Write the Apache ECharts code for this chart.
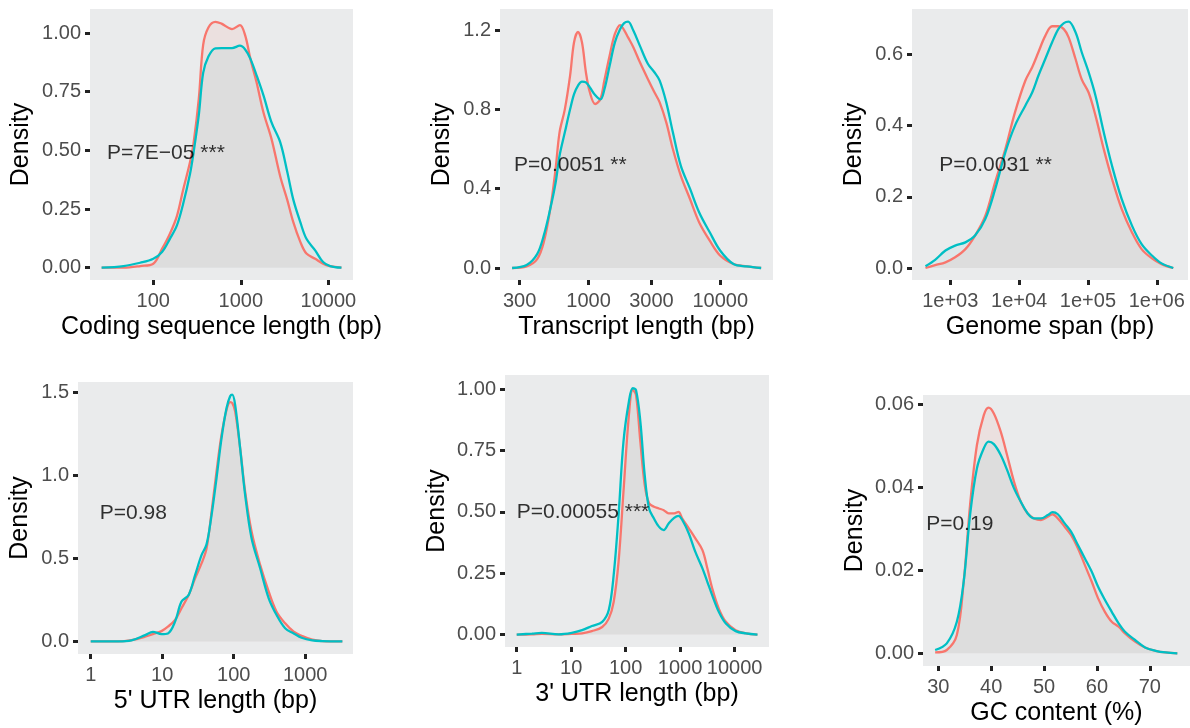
<!DOCTYPE html>
<html>
<head>
<meta charset="utf-8">
<script src="https://cdn.jsdelivr.net/npm/echarts@6/dist/echarts.min.js"></script>
<style>
html,body{margin:0;padding:0;background:#fff;}
#chart{width:1190px;height:728px;}
</style>
</head>
<body>
<div id="chart"></div>
<script>
// ---------- DATA ----------
// x positions of density samples are log10(bp) for the length panels, % for GC content
const cdsLogLen = [1.41,1.66,1.85,2.00,2.10,2.19,2.27,2.34,2.42,2.46,2.52,2.57,2.63,2.71,2.78,2.90,2.99,3.05,3.11,3.18,3.26,3.35,3.45,3.53,3.60,3.68,3.75,3.85,3.94,4.02,4.15];
const cdsRed  = [0,0,0.007,0.017,0.08,0.145,0.22,0.33,0.45,0.53,0.72,0.95,1.024,1.048,1.04,1.017,1.034,0.99,0.89,0.79,0.66,0.55,0.39,0.29,0.194,0.11,0.06,0.038,0.017,0.007,0];
const cdsTeal = [0,0.007,0.021,0.038,0.067,0.123,0.18,0.27,0.40,0.49,0.65,0.83,0.90,0.935,0.936,0.936,0.946,0.93,0.89,0.82,0.733,0.62,0.535,0.41,0.29,0.194,0.123,0.074,0.024,0.007,0];

const txLogLen = [2.42,2.53,2.61,2.66,2.71,2.75,2.78,2.82,2.86,2.89,2.92,2.95,2.98,3.01,3.05,3.09,3.12,3.16,3.20,3.24,3.27,3.30,3.34,3.39,3.45,3.50,3.54,3.59,3.64,3.70,3.77,3.84,3.92,4.00,4.10,4.20,4.31];
const txRed  = [0,0.008,0.045,0.13,0.30,0.50,0.684,0.80,0.97,1.138,1.19,1.138,0.987,0.886,0.827,0.852,0.945,1.07,1.18,1.225,1.20,1.163,1.113,1.037,0.953,0.886,0.835,0.734,0.60,0.466,0.348,0.23,0.138,0.062,0.02,0.008,0];
const txTeal = [0,0.015,0.07,0.163,0.30,0.43,0.566,0.684,0.80,0.877,0.92,0.94,0.936,0.911,0.872,0.85,0.90,1.02,1.138,1.205,1.235,1.242,1.197,1.12,1.03,0.987,0.945,0.835,0.684,0.516,0.40,0.28,0.18,0.087,0.02,0.008,0];

const spanLogLen = [2.64,2.78,2.93,3.07,3.22,3.36,3.51,3.65,3.80,3.94,4.09,4.19,4.28,4.38,4.48,4.57,4.65,4.72,4.82,4.91,5.01,5.11,5.23,5.35,5.49,5.64,5.78,5.93,6.07,6.24];
const spanRed  = [0,0.008,0.016,0.03,0.053,0.091,0.147,0.24,0.334,0.437,0.526,0.564,0.606,0.652,0.679,0.679,0.671,0.648,0.587,0.53,0.493,0.428,0.334,0.25,0.166,0.10,0.053,0.027,0.011,0];
const spanTeal = [0.005,0.023,0.049,0.063,0.072,0.091,0.138,0.22,0.325,0.40,0.456,0.493,0.54,0.587,0.634,0.671,0.688,0.692,0.662,0.606,0.55,0.484,0.381,0.287,0.194,0.119,0.067,0.035,0.013,0];

const utr5LogLen = [0.00,0.38,0.57,0.76,0.87,0.99,1.08,1.18,1.27,1.37,1.46,1.55,1.62,1.69,1.76,1.83,1.90,1.95,1.98,2.02,2.09,2.16,2.25,2.37,2.49,2.60,2.72,2.84,2.95,3.10,3.24,3.52];
const utr5Red  = [0,0,0.008,0.028,0.044,0.062,0.089,0.129,0.20,0.28,0.38,0.47,0.56,0.78,1.025,1.246,1.397,1.443,1.437,1.387,1.166,0.904,0.662,0.461,0.30,0.179,0.109,0.058,0.034,0.01,0.002,0];
const utr5Teal = [0,0,0.006,0.038,0.058,0.044,0.048,0.119,0.24,0.28,0.40,0.52,0.585,0.76,0.985,1.226,1.407,1.478,1.488,1.427,1.166,0.884,0.622,0.441,0.26,0.159,0.079,0.048,0.022,0.006,0.002,0];

const utr3LogLen = [0.00,0.28,0.46,0.77,1.01,1.20,1.38,1.57,1.69,1.78,1.87,1.96,2.06,2.13,2.19,2.27,2.35,2.43,2.52,2.61,2.70,2.79,2.89,2.97,3.04,3.16,3.28,3.41,3.50,3.59,3.71,3.84,4.02,4.21,4.42];
const utr3Red  = [0,0.001,0.003,0.001,0.003,0.005,0.014,0.031,0.065,0.133,0.297,0.582,0.895,0.997,0.977,0.786,0.61,0.535,0.521,0.514,0.507,0.494,0.494,0.50,0.473,0.433,0.392,0.344,0.27,0.188,0.106,0.052,0.018,0.005,0];
const utr3Teal = [0,0.004,0.007,0.001,0.007,0.018,0.035,0.052,0.10,0.242,0.487,0.786,0.95,1.004,0.997,0.868,0.65,0.514,0.473,0.44,0.426,0.453,0.476,0.484,0.467,0.412,0.337,0.27,0.215,0.16,0.093,0.045,0.014,0.005,0];

const gcPct  = [29.4,31.6,33.5,34.8,36.0,37.3,38.6,39.5,40.5,41.8,43.0,44.3,45.6,46.9,48.1,49.4,50.7,51.6,52.6,53.9,55.1,56.4,57.7,59.0,60.2,61.5,62.8,64.1,65.3,67.2,69.1,71.1,73.0,75.2];
const gcRed  = [0.0002,0.0008,0.0044,0.0173,0.0357,0.0502,0.0574,0.0592,0.0578,0.0534,0.0478,0.0414,0.0365,0.0337,0.0325,0.0321,0.0329,0.0335,0.0325,0.0305,0.0285,0.0253,0.0213,0.0173,0.0133,0.010,0.0076,0.0064,0.0048,0.0028,0.0014,0.0006,0.0002,0];
const gcTeal = [0.0008,0.0024,0.0076,0.0173,0.0333,0.0446,0.0494,0.051,0.0504,0.0478,0.0442,0.0398,0.0365,0.0337,0.0325,0.0325,0.0333,0.034,0.0335,0.0313,0.0293,0.0261,0.0229,0.0197,0.0161,0.0129,0.010,0.0072,0.0052,0.0032,0.0014,0.0006,0.0002,0];

// tick values and labels
const cdsTicks = [100, 1000, 10000];       const cdsTickLabels = ['100','1000','10000'];
const txTicks = [300, 1000, 3000, 10000];  const txTickLabels = ['300','1000','3000','10000'];
const spanTicks = [1e3, 1e4, 1e5, 1e6];    const spanTickLabels = ['1e+03','1e+04','1e+05','1e+06'];
const utr5Ticks = [1, 10, 100, 1000];      const utr5TickLabels = ['1','10','100','1000'];
const utr3Ticks = [1, 10, 100, 1000, 10000]; const utr3TickLabels = ['1','10','100','1000','10000'];
const gcTicks = [30, 40, 50, 60, 70];      const gcTickLabels = ['30','40','50','60','70'];

const yTicksA = [0, 0.25, 0.5, 0.75, 1.0]; const yTickLabelsA = ['0.00','0.25','0.50','0.75','1.00'];
const yTicksB = [0, 0.4, 0.8, 1.2];        const yTickLabelsB = ['0.0','0.4','0.8','1.2'];
const yTicksC = [0, 0.2, 0.4, 0.6];        const yTickLabelsC = ['0.0','0.2','0.4','0.6'];
const yTicksD = [0, 0.5, 1.0, 1.5];        const yTickLabelsD = ['0.0','0.5','1.0','1.5'];
const yTicksF = [0, 0.02, 0.04, 0.06];     const yTickLabelsF = ['0.00','0.02','0.04','0.06'];

const xTitles = ['Coding sequence length (bp)','Transcript length (bp)','Genome span (bp)',"5' UTR length (bp)","3' UTR length (bp)",'GC content (%)'];
const pLabels = ['P=7E\u221205 ***','P=0.0051 **','P=0.0031 **','P=0.98','P=0.00055 ***','P=0.19'];
// annotation anchors (left edge, vertical centre) in data units
const pAnchorX = [1.47, 2.434, 2.84, 0.126, 0.0, 27.7];
const pAnchorY = [0.49, 0.52, 0.289, 0.773, 0.498, 0.0312];

// ---------- LAYOUT / STYLE ----------
const RED = '#F8766D', TEAL = '#00BFC4';
const FONT = "'Liberation Sans', Arial, Helvetica, sans-serif";
const log10 = v => Math.log10(v);

const panels = [
  {x:cdsLogLen, r:cdsRed, t:cdsTeal, xt:cdsTicks.map(log10), xl:cdsTickLabels, yt:yTicksA, yl:yTickLabelsA,
   xr:[1.277,4.282], yr:[-0.0525,1.1025], grid:{left:90,top:9,width:263,height:271}, yGap:56},
  {x:txLogLen, r:txRed, t:txTeal, xt:txTicks.map(log10), xl:txTickLabels, yt:yTicksB, yl:yTickLabelsB,
   xr:[2.328,4.40], yr:[-0.0605,1.306], grid:{left:500,top:9,width:273,height:271}, yGap:45},
  {x:spanLogLen, r:spanRed, t:spanTeal, xt:spanTicks.map(log10), xl:spanTickLabels, yt:yTicksC, yl:yTickLabelsC,
   xr:[2.444,6.454], yr:[-0.0337,0.7275], grid:{left:912,top:9,width:276,height:271}, yGap:45},
  {x:utr5LogLen, r:utr5Red, t:utr5Teal, xt:utr5Ticks.map(log10), xl:utr5TickLabels, yt:yTicksD, yl:yTickLabelsD,
   xr:[-0.178,3.669], yr:[-0.076,1.564], grid:{left:78,top:382,width:275,height:272}, yGap:45},
  {x:utr3LogLen, r:utr3Red, t:utr3Teal, xt:utr3Ticks.map(log10), xl:utr3TickLabels, yt:yTicksA, yl:yTickLabelsA,
   xr:[-0.215,4.632], yr:[-0.0506,1.058], grid:{left:505,top:375,width:264,height:272}, yGap:55},
  {x:gcPct, r:gcRed, t:gcTeal, xt:gcTicks, xl:gcTickLabels, yt:yTicksF, yl:yTickLabelsF,
   xr:[27.1,77.6], yr:[-0.00306,0.06224], grid:{left:923,top:395,width:267,height:271}, yGap:55}
];

function labelFor(ticks, labels){
  return function(v){
    for (let i=0;i<ticks.length;i++){ if (Math.abs(ticks[i]-v) < 1e-6) return labels[i]; }
    return '';
  };
}

const grids=[], xAxes=[], yAxes=[], series=[];
panels.forEach((p,i)=>{
  grids.push(Object.assign({show:true, backgroundColor:'#EAEBEC', borderWidth:0, containLabel:false}, p.grid));
  xAxes.push({
    type:'value', gridIndex:i, min:p.xr[0], max:p.xr[1],
    axisLine:{show:false, onZero:false},
    axisTick:{show:true, length:5, customValues:p.xt, lineStyle:{color:'#222222', width:3}},
    splitLine:{show:false},
    axisLabel:{customValues:p.xt, formatter:labelFor(p.xt,p.xl), color:'#4D4D4D', fontSize:20, fontFamily:FONT, margin:11},
    name:xTitles[i], nameLocation:'middle', nameGap:35,
    nameTextStyle:{color:'#000', fontSize:25, fontFamily:FONT}
  });
  yAxes.push({
    type:'value', gridIndex:i, min:p.yr[0], max:p.yr[1],
    axisLine:{show:false, onZero:false},
    axisTick:{show:true, length:5, customValues:p.yt, lineStyle:{color:'#222222', width:3}},
    splitLine:{show:false},
    axisLabel:{customValues:p.yt, formatter:labelFor(p.yt,p.yl), color:'#4D4D4D', fontSize:20, fontFamily:FONT, margin:9},
    name:'Density', nameLocation:'middle', nameGap:p.yGap,
    nameTextStyle:{color:'#000', fontSize:25, fontFamily:FONT}
  });
  const mk = (ys, col, fill) => ({
    type:'line', xAxisIndex:i, yAxisIndex:i, showSymbol:false, symbol:'none', smooth:0.35,
    data:p.x.map((x,k)=>[x, ys[k]]),
    lineStyle:{color:col, width:2.3}, itemStyle:{color:col},
    areaStyle:{color:fill, origin:0}, silent:true
  });
  series.push(mk(p.r, RED, 'rgba(248,118,109,0.14)'));
  series.push(mk(p.t, TEAL, 'rgba(0,191,196,0.085)'));
  series.push({
    type:'scatter', xAxisIndex:i, yAxisIndex:i, symbolSize:0, silent:true, z:10,
    data:[[pAnchorX[i], pAnchorY[i]]],
    label:{show:true, position:'right', distance:0, formatter:pLabels[i], color:'#000', fontSize:21, fontFamily:FONT}
  });
});

const chart = echarts.init(document.getElementById('chart'), null, {renderer:'canvas'});
chart.setOption({
  animation:false, backgroundColor:'#ffffff',
  grid:grids, xAxis:xAxes, yAxis:yAxes, series:series
});
</script>
</body>
</html>
